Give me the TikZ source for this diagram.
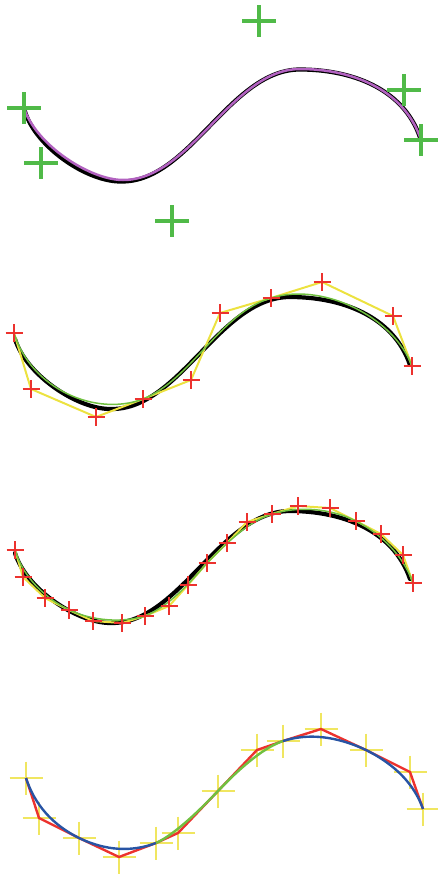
\documentclass[tikz,border=0pt]{standalone}
\usetikzlibrary{calc}

\definecolor{crossgreen}{RGB}{80,186,72}
\definecolor{fitpurple}{RGB}{178,98,192}
\definecolor{fitgreen}{RGB}{112,192,64}
\definecolor{ptred}{RGB}{236,50,46}
\definecolor{polyyellow}{RGB}{236,226,64}
\definecolor{crossyellow}{RGB}{240,230,96}
\definecolor{fitblue}{RGB}{40,84,164}

\begin{document}
\begin{tikzpicture}[x=1pt, y=-1pt,
	ink/.style={black, line width=4.2pt, line cap=round},
	polyline/.style={polyyellow, line width=2pt, line join=round},
	fitline/.style={fitgreen, line width=1.5pt},
	redcross/.style={ptred, line width=2.4pt}]
	\useasboundingbox (0,0) rectangle (438,876);

	% sketch and its fit
	\coordinate (g1) at (24,108);
	\coordinate (g2) at (41,163);
	\coordinate (g3) at (172,221);
	\coordinate (g4) at (259,21);
	\coordinate (g5) at (404,90);
	\coordinate (g6) at (421,140);

	\begin{scope}[shift={(0,1.5)}]
	\draw[ink] (25,110) .. controls (36,146) and (88,181) .. (122,180) .. controls (190,180) and (230,68) .. (300,68) .. controls (350,68) and (403,86) .. (420,136);
\end{scope}
	\draw[fitpurple, line width=2.5pt] (g1) .. controls (36,145) and (90,180) .. (123,180)
	  .. controls (191,180) and (232,69) .. (300,69) .. controls (350,69) and (404,88) .. (g6);
	\foreach \i in {1,...,6}
		\draw[crossgreen, line width=3.2pt] (g\i) ++(-17,0) -- ++(34,0) (g\i) ++(0,-16) -- ++(0,32);

	% three pieces
	\coordinate (p1) at (14,333);
	\coordinate (p2) at (31,389);
	\coordinate (p3) at (96,417);
	\coordinate (p4) at (143,399);
	\coordinate (p5) at (191,380);
	\coordinate (p6) at (220,313);
	\coordinate (p7) at (271,298);
	\coordinate (p8) at (322,282);
	\coordinate (p9) at (393,316);
	\coordinate (p10) at (412,366);

	\begin{scope}[shift={(-10,229)}]
	\draw[ink] (25,110) .. controls (36,146) and (88,181) .. (122,180) .. controls (190,180) and (230,68) .. (300,68) .. controls (350,68) and (403,86) .. (420,136);
\end{scope}
	\draw[polyline] (p1) \foreach \i in {2,...,10} { -- (p\i) };
	\draw[fitline] (p1) .. controls (p2) and (p3) .. (p4) .. controls (p5) and (p6) .. (p7) .. controls (p8) and (p9) .. (p10);
	\foreach \i in {1,...,10}
		\draw[redcross] (p\i) ++(-8.5,0) -- ++(17,0) (p\i) ++(0,-9) -- ++(0,18);

	% six pieces
	\coordinate (q1) at (15,550);
	\coordinate (q2) at (23,577);
	\coordinate (q3) at (45,598);
	\coordinate (q4) at (69,610);
	\coordinate (q5) at (93,621);
	\coordinate (q6) at (122,623);
	\coordinate (q7) at (145,616);
	\coordinate (q8) at (169,606);
	\coordinate (q9) at (188,585);
	\coordinate (q10) at (207,563);
	\coordinate (q11) at (227,543);
	\coordinate (q12) at (247,522);
	\coordinate (q13) at (272,514);
	\coordinate (q14) at (298,506);
	\coordinate (q15) at (330,508);
	\coordinate (q16) at (356,521);
	\coordinate (q17) at (381,534);
	\coordinate (q18) at (403,555);
	\coordinate (q19) at (413,583);

	\begin{scope}[shift={(-10,443)}]
	\draw[ink] (25,110) .. controls (36,146) and (88,181) .. (122,180) .. controls (190,180) and (230,68) .. (300,68) .. controls (350,68) and (403,86) .. (420,136);
\end{scope}
	\draw[polyline] (q1) \foreach \i in {2,...,19} { -- (q\i) };
	\draw[fitline] (q1) .. controls (q2) and (q3) .. (q4) .. controls (q5) and (q6) .. (q7)
	  .. controls (q8) and (q9) .. (q10) .. controls (q11) and (q12) .. (q13)
	  .. controls (q14) and (q15) .. (q16) .. controls (q17) and (q18) .. (q19);
	\foreach \i in {1,...,19}
		\draw[redcross] (q\i) ++(-8.5,0) -- ++(17,0) (q\i) ++(0,-9) -- ++(0,18);

	% quadratic pieces
	\coordinate (s1) at (26,778);
	\coordinate (s2) at (39,818);
	\coordinate (s3) at (79,838);
	\coordinate (s4) at (119,857);
	\coordinate (s5) at (156,843);
	\coordinate (s6) at (178,833);
	\coordinate (s7) at (218,791);
	\coordinate (s8) at (257,750);
	\coordinate (s9) at (283,741);
	\coordinate (s10) at (321,729);
	\coordinate (s11) at (366,750);
	\coordinate (s12) at (410,772);
	\coordinate (s13) at (423,809);

	\foreach \i in {1,...,13}
		\draw[crossyellow, line width=2.7pt] (s\i) ++(-16.5,0) -- ++(33,0) (s\i) ++(0,-16.5) -- ++(0,33);
	\draw[ptred, line width=2.4pt, line join=round] (s1) \foreach \i in {2,...,13} { -- (s\i) };
	\draw[fitblue, line width=2.4pt] (s1) .. controls ($(s1)!2/3!(s2)$) and ($(s3)!2/3!(s2)$) .. (s3)
	  .. controls ($(s3)!2/3!(s4)$) and ($(s5)!2/3!(s4)$) .. (s5);
	\draw[fitgreen, line width=2.4pt] (s5) .. controls ($(s5)!2/3!(s6)$) and ($(s7)!2/3!(s6)$) .. (s7)
	  .. controls ($(s7)!2/3!(s8)$) and ($(s9)!2/3!(s8)$) .. (s9);
	\draw[fitblue, line width=2.4pt] (s9) .. controls ($(s9)!2/3!(s10)$) and ($(s11)!2/3!(s10)$) .. (s11)
	  .. controls ($(s11)!2/3!(s12)$) and ($(s13)!2/3!(s12)$) .. (s13);
\end{tikzpicture}
\end{document}
